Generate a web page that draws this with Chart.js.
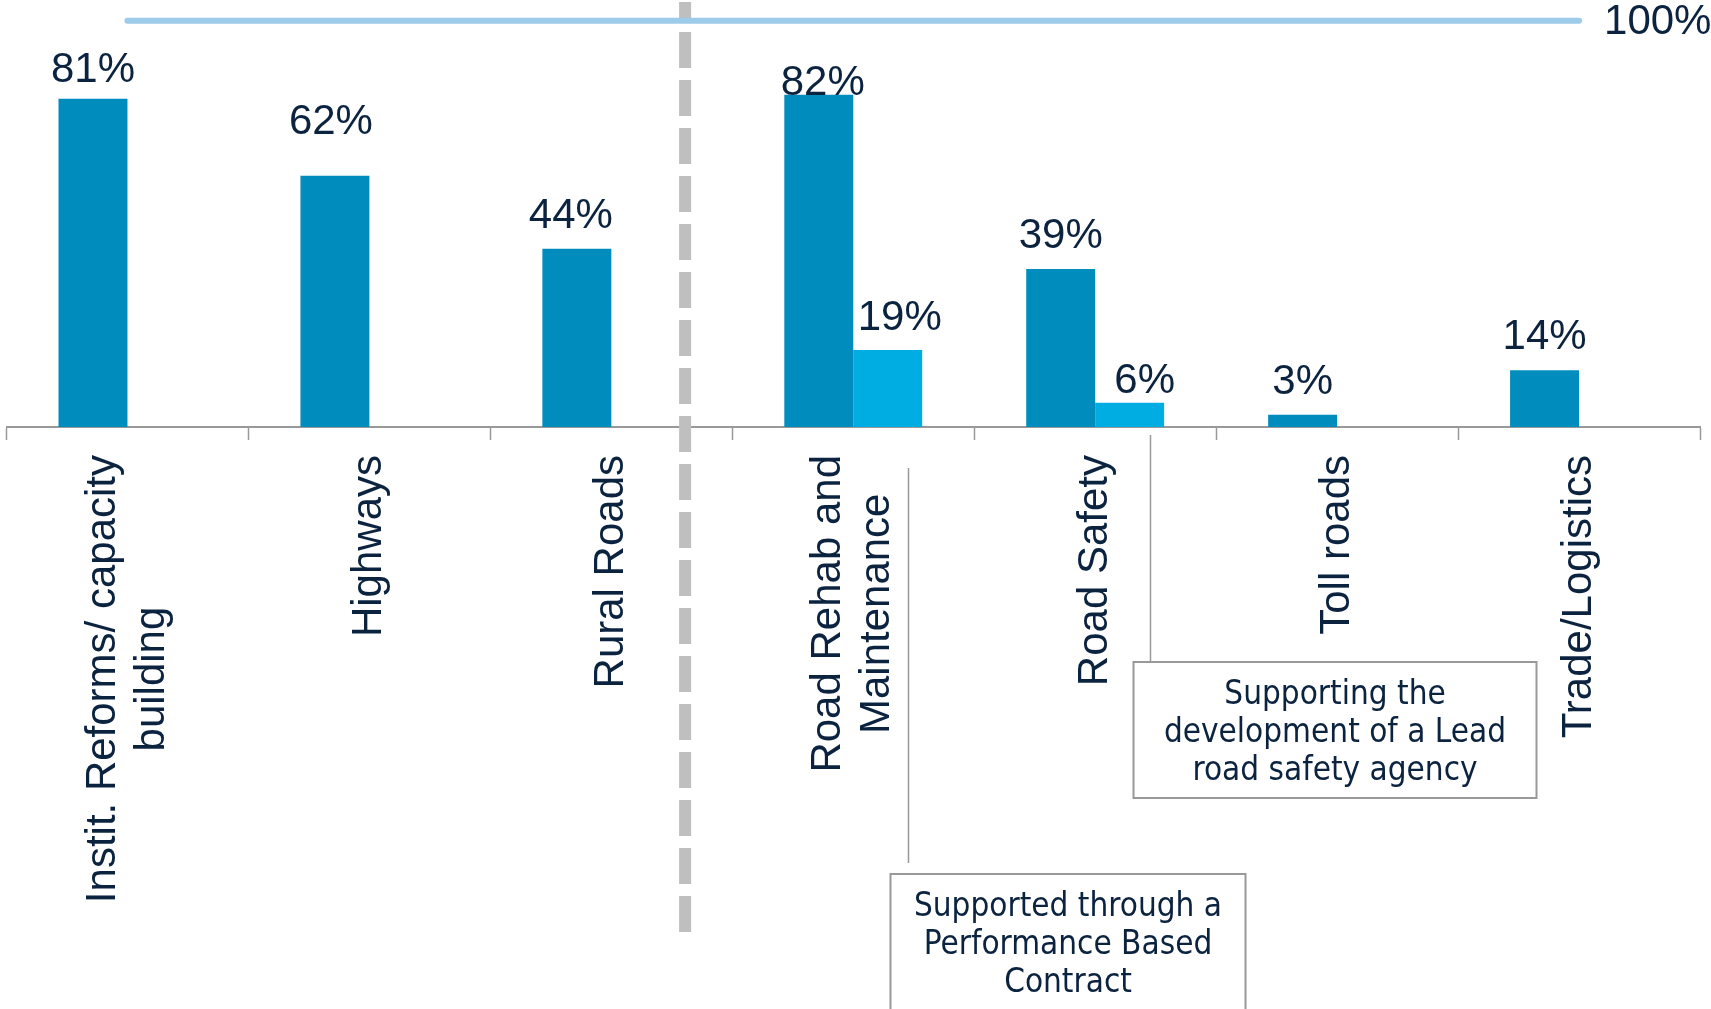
<!DOCTYPE html>
<html>
<head>
<meta charset="utf-8">
<title>Road sector support</title>
<script src="https://cdn.jsdelivr.net/npm/chart.js@4.4.0/dist/chart.umd.min.js"></script>
<style>
    html, body { margin: 0; padding: 0; background: #fff; }
    .chart-wrap { position: relative; width: 1711px; height: 1009px; }
</style>
</head>
<body>
<div class="chart-wrap"><canvas id="roadsChart"></canvas></div>
<script>
// data
const categories = [
    ['Instit. Reforms/ capacity', 'building'],
    'Highways',
    'Rural Roads',
    ['Road Rehab and', 'Maintenance'],
    'Road Safety',
    'Toll roads',
    'Trade/Logistics'
];
const shareMain = [81, 62, 44, 82, 39, 3, 14];
const shareSecond = [null, null, null, 19, 6, null, null];
const referenceLevel = 100;

const notes = [
    { category: 3, lines: ['Supported through a', 'Performance Based', 'Contract'] },
    { category: 4, lines: ['Supporting the', 'development of a Lead', 'road safety agency'] }
];

// styling
const NAVY = '#0C2340';
const LABEL_FONT = '42px "Liberation Sans", Arial, sans-serif';
const NOTE_FONT = '33px "DejaVu Sans Condensed", "DejaVu Sans", sans-serif';
const gapMain = [17, 42, 21, 0, 21, 21, 21];
const gapSecond = [0, 0, 0, 20, 10, 0, 0];
const shiftMain = [0, -4, -6, 4, 0, 0, 0];
const shiftSecond = [0, 0, 0, 12, 15, 0, 0];

// leader line / box geometry for each note (px, relative to the leader x)
const noteBoxes = [
    { dx: 55, lineTop: 468, lineBottom: 863, left: -18, right: 337, top: 874, bottom: 1030 },
    { dx: 55, lineTop: 435, lineBottom: 662, left: -17, right: 386, top: 662, bottom: 798 }
];

const overlays = {
    id: 'overlays',
    afterDatasetsDraw(chart) {
        const ctx = chart.ctx;
        const x = chart.scales.x;
        const y = chart.scales.y;
        const step = x.getPixelForValue(1) - x.getPixelForValue(0);

        // dashed split between the two groups
        ctx.save();
        const sx = x.getPixelForValue(2) + 0.305 * step;
        ctx.strokeStyle = '#BFBFBF';
        ctx.lineWidth = 12;
        ctx.setLineDash([36, 12]);
        ctx.lineDashOffset = 18;
        ctx.beginPath();
        ctx.moveTo(sx, 2);
        ctx.lineTo(sx, 932);
        ctx.stroke();
        ctx.restore();

        // 100% reference line
        ctx.save();
        const ry = y.getPixelForValue(referenceLevel) - 1;
        const x0 = x.getPixelForValue(0);
        const x1 = x.getPixelForValue(categories.length - 1);
        ctx.strokeStyle = '#9DCBEA';
        ctx.lineWidth = 6;
        ctx.lineCap = 'round';
        ctx.beginPath();
        ctx.moveTo(x0, ry);
        ctx.lineTo(x1, ry);
        ctx.stroke();
        ctx.font = LABEL_FONT;
        ctx.fillStyle = NAVY;
        ctx.textAlign = 'left';
        ctx.textBaseline = 'middle';
        ctx.fillText(referenceLevel + '%', x1 + 25, ry + 2);
        ctx.restore();

        // value labels
        ctx.save();
        ctx.font = LABEL_FONT;
        ctx.fillStyle = NAVY;
        ctx.textAlign = 'center';
        ctx.textBaseline = 'alphabetic';
        [[shareMain, gapMain, shiftMain], [shareSecond, gapSecond, shiftSecond]].forEach(([vals, gaps, shifts], d) => {
            chart.getDatasetMeta(d).data.forEach((bar, i) => {
                if (vals[i] == null) return;
                ctx.fillText(vals[i] + '%', bar.x + shifts[i], bar.y - gaps[i]);
            });
        });
        ctx.restore();
    },
    afterDraw(chart) {
        const ctx = chart.ctx;
        const x = chart.scales.x;

        // rotated category labels, lines centred as a block
        ctx.save();
        ctx.font = LABEL_FONT;
        ctx.fillStyle = NAVY;
        ctx.textAlign = 'center';
        ctx.textBaseline = 'middle';
        const top = x.bottom + 15;
        chart.data.labels.forEach((label, i) => {
            const lines = Array.isArray(label) ? label : [label];
            const w = Math.max(...lines.map((l) => ctx.measureText(l).width));
            ctx.save();
            ctx.translate(x.getPixelForValue(i), top);
            ctx.rotate(-Math.PI / 2);
            lines.forEach((l, j) => ctx.fillText(l, -w / 2, (j - (lines.length - 1) / 2) * 49));
            ctx.restore();
        });
        ctx.restore();

        // notes with leader lines
        ctx.save();
        ctx.strokeStyle = '#999999';
        ctx.fillStyle = NAVY;
        ctx.font = NOTE_FONT;
        ctx.textAlign = 'center';
        ctx.textBaseline = 'middle';
        notes.forEach((n, k) => {
            const b = noteBoxes[k];
            const lx = Math.round(x.getPixelForValue(n.category) + b.dx) + 0.5;
            ctx.lineWidth = 1.5;
            ctx.beginPath();
            ctx.moveTo(lx, b.lineTop);
            ctx.lineTo(lx, b.lineBottom);
            ctx.stroke();
            ctx.lineWidth = 2;
            ctx.strokeRect(lx + b.left, b.top, b.right - b.left, b.bottom - b.top);
            const cx = lx + (b.left + b.right) / 2;
            n.lines.forEach((t, j) => ctx.fillText(t, cx, b.top + 33 + j * 38));
        });
        ctx.restore();
    }
};

new Chart(document.getElementById('roadsChart').getContext('2d'), {
    type: 'bar',
    data: {
        labels: categories,
        datasets: [
            { label: 'Main', data: shareMain, backgroundColor: '#008DBD', categoryPercentage: 0.57, barPercentage: 1 },
            { label: 'Second', data: shareSecond, backgroundColor: '#00ADE2', categoryPercentage: 0.57, barPercentage: 1 }
        ]
    },
    options: {
        responsive: true,
        maintainAspectRatio: false,
        animation: false,
        devicePixelRatio: 1,
        layout: { padding: { top: 1.5, left: 6.5, right: 11, bottom: 569 } },
        plugins: { legend: { display: false }, tooltip: { enabled: false } },
        scales: {
            x: {
                grid: { offset: true, drawOnChartArea: false, tickLength: 13, tickColor: '#999999', tickWidth: 1.5 },
                border: { color: '#999999', width: 2 },
                ticks: { display: false }
            },
            y: { display: false, min: 0, max: 105 }
        }
    },
    plugins: [overlays]
});
</script>
</body>
</html>
